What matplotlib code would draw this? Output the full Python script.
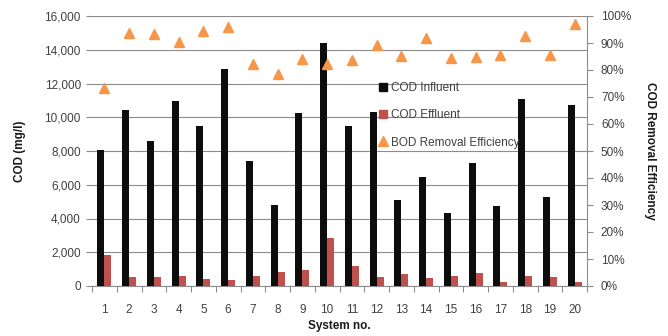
import matplotlib
matplotlib.use("Agg")
import matplotlib.pyplot as plt
import numpy as np
from matplotlib.ticker import FuncFormatter, FixedLocator
from matplotlib.lines import Line2D

systems = [str(i) for i in range(1, 21)]
cod_influent = [8050, 10420, 8600, 10980, 9490, 12840, 7380, 4810, 10270, 14380,
                9510, 10340, 5120, 6430, 4350, 7260, 4730, 11100, 5260, 10700]
cod_effluent = [1820, 530, 530, 610, 440, 360, 610, 850, 970, 2830,
                1170, 530, 690, 490, 570, 770, 260, 610, 530, 260]
removal_eff = [73.4, 93.6, 93.4, 90.2, 94.6, 96.0, 82.2, 78.5, 84.2, 82.1,
               83.8, 89.4, 85.2, 91.7, 84.4, 85.0, 85.7, 92.6, 85.4, 97.2]

plt.rcParams['font.family'] = ['Liberation Sans', 'DejaVu Sans']
txt = '#404040'
grid_c = '#8c8c8c'

fig = plt.figure(figsize=(6.68, 3.36), dpi=100)
ax = fig.add_axes([92/668, 50/336, (587-92)/668, (286-16)/336])
x = np.arange(len(systems))
w = 0.28
ax.bar(x - w/2, cod_influent, width=w, color='#0d0d0d', zorder=3)
ax.bar(x + w/2, cod_effluent, width=w, color='#c0504d', zorder=3)
ax.set_xlim(-0.5, len(systems) - 0.5)
ax.set_ylim(0, 16000)
ax.set_yticks(np.arange(0, 16001, 2000))
ax.yaxis.set_major_formatter(FuncFormatter(lambda v, p: f"{int(v):,}"))
ax.grid(axis='y', color=grid_c, linewidth=0.8, zorder=0)
ax.set_axisbelow(True)
ax.set_xticks(x)
ax.set_xticklabels(systems)
ax.xaxis.set_minor_locator(FixedLocator(np.arange(-0.5, len(systems), 1)))
ax.tick_params(axis='x', which='major', length=0, pad=13, labelsize=8.5, labelcolor=txt)
ax.tick_params(axis='x', which='minor', length=4, color=grid_c, width=0.8)
ax.tick_params(axis='y', length=4, color=grid_c, width=0.8, pad=4, labelsize=8.5, labelcolor=txt)
for s in ['top', 'left', 'right']:
    ax.spines[s].set_visible(False)
ax.spines['bottom'].set_color(grid_c)
ax.spines['bottom'].set_linewidth(0.8)
ax.set_ylabel('COD (mg/l)', fontsize=8.5, fontweight='bold', color='#1a1a1a', labelpad=13)
ax.set_xlabel('System no.', fontsize=8.5, fontweight='bold', color='#1a1a1a', labelpad=3)

ax2 = ax.twinx()
ax2.plot(x, np.array(removal_eff) / 100, linestyle='none', marker='^', markersize=7,
         color='#f79646', zorder=4)
ax2.set_ylim(0, 1)
ax2.set_yticks(np.arange(0, 1.001, 0.1))
ax2.yaxis.set_major_formatter(FuncFormatter(lambda v, p: f"{round(v*100)}%"))
ax2.tick_params(axis='y', length=4, color=grid_c, width=0.8, pad=6, labelsize=8.5, labelcolor=txt)
for s in ['top', 'left', 'bottom']:
    ax2.spines[s].set_visible(False)
ax2.spines['right'].set_color(grid_c)
ax2.spines['right'].set_linewidth(0.8)
ax2.set_ylabel('COD Removal Efficiency', fontsize=8.5, fontweight='bold', color='#1a1a1a',
               rotation=270, labelpad=18)

handles = [Line2D([], [], linestyle='none', marker='s', markersize=6, color='#0d0d0d'),
           Line2D([], [], linestyle='none', marker='s', markersize=6, color='#c0504d'),
           Line2D([], [], linestyle='none', marker='^', markersize=6.5, color='#f79646')]
labels = ['COD Influent', 'COD Effluent', 'BOD Removal Efficiency']
leg = ax2.legend(handles, labels, loc='upper left', bbox_to_anchor=(372/668, 1 - 76/336),
                 bbox_transform=fig.transFigure, frameon=False, fontsize=8.5,
                 labelspacing=1.3, handlelength=0.8, handletextpad=0.3, borderpad=0)
for t in leg.get_texts():
    t.set_color(txt)

fig.savefig('out.png', dpi=100)
